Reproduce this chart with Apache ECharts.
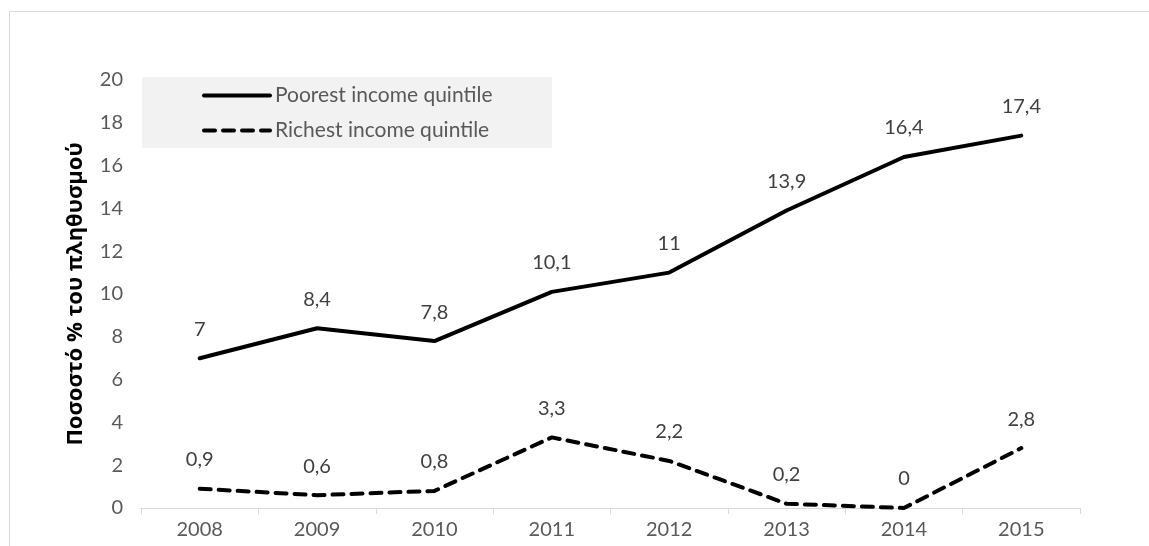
<!DOCTYPE html>
<html>
<head>
<meta charset="utf-8">
<script src="https://cdn.jsdelivr.net/npm/echarts@6/dist/echarts.min.js"></script>
<style>
  html, body { margin: 0; padding: 0; background: #fff; }
  #chart { width: 1149px; height: 546px; }
</style>
</head>
<body>
<div id="chart"></div>
<script>
// Share of population by income quintile, 2008–2015
const years = ['2008', '2009', '2010', '2011', '2012', '2013', '2014', '2015'];
const poorest = [7, 8.4, 7.8, 10.1, 11, 13.9, 16.4, 17.4];
const richest = [0.9, 0.6, 0.8, 3.3, 2.2, 0.2, 0, 2.8];
const seriesNames = ['Poorest income quintile', 'Richest income quintile'];
const yAxisTitle = 'Ποσοστό % του πληθυσμού';

const FONT = 'Lato, "Open Sans", "Noto Sans", sans-serif';
const fmt = v => String(v).replace('.', ',');

const chart = echarts.init(document.getElementById('chart'));

// value labels sit above each (invisible) point marker
const labelCfg = {
  show: true,
  position: 'top',
  distance: 19,
  color: '#404040',
  fontFamily: FONT,
  fontSize: 20,
  formatter: p => fmt(p.value)
};

chart.setOption({
  animation: false,
  backgroundColor: '#fff',
  graphic: [
    {
      type: 'rect',
      silent: true,
      z: -10,
      shape: { x: 9.5, y: 11.5, width: 1300, height: 700 },
      style: { fill: '#fff', stroke: '#d9d9d9', lineWidth: 1 }
    },
    {
      type: 'rect',
      silent: true,
      z: -5,
      shape: { x: 142, y: 77, width: 410, height: 71 },
      style: { fill: '#f2f2f2' }
    }
  ],
  grid: { left: 141, right: 69, top: 80, bottom: 38, containLabel: false },
  legend: {
    orient: 'vertical',
    left: 192,
    top: 75,
    padding: [10, 10, 10, 10],
    itemWidth: 66,
    itemHeight: 14,
    itemGap: 14,
    itemStyle: { color: 'rgba(0,0,0,0)', borderWidth: 0, opacity: 0 },
    lineStyle: { width: 4 },
    textStyle: { color: '#595959', fontFamily: FONT, fontSize: 21 },
    data: seriesNames
  },
  xAxis: {
    type: 'category',
    data: years,
    boundaryGap: true,
    axisLine: { show: true, lineStyle: { color: '#d9d9d9', width: 1 } },
    axisTick: { show: true, length: 6, lineStyle: { color: '#d9d9d9' } },
    axisLabel: { color: '#595959', fontFamily: FONT, fontSize: 20, margin: 12 },
    splitLine: { show: false }
  },
  yAxis: {
    type: 'value',
    min: 0,
    max: 20,
    interval: 2,
    name: yAxisTitle,
    nameLocation: 'middle',
    nameGap: 54,
    nameTextStyle: { color: '#000', fontFamily: '"Open Sans", "Noto Sans", sans-serif', fontWeight: 'bold', fontSize: 22 },
    axisLine: { show: false },
    axisTick: { show: false },
    splitLine: { show: false },
    axisLabel: { color: '#595959', fontFamily: FONT, fontSize: 20, margin: 18 }
  },
  series: [
    {
      name: seriesNames[0],
      type: 'line',
      data: poorest,
      symbol: 'circle',
      symbolSize: 0,
      showAllSymbol: true,
      lineStyle: { color: '#000', width: 4, cap: 'round', join: 'round' },
      itemStyle: { color: '#000' },
      label: labelCfg
    },
    {
      name: seriesNames[1],
      type: 'line',
      data: richest,
      symbol: 'circle',
      symbolSize: 0,
      showAllSymbol: true,
      lineStyle: { color: '#000', width: 4, type: [11, 8], cap: 'round', join: 'round' },
      itemStyle: { color: '#000' },
      label: labelCfg
    }
  ]
});
</script>
</body>
</html>
